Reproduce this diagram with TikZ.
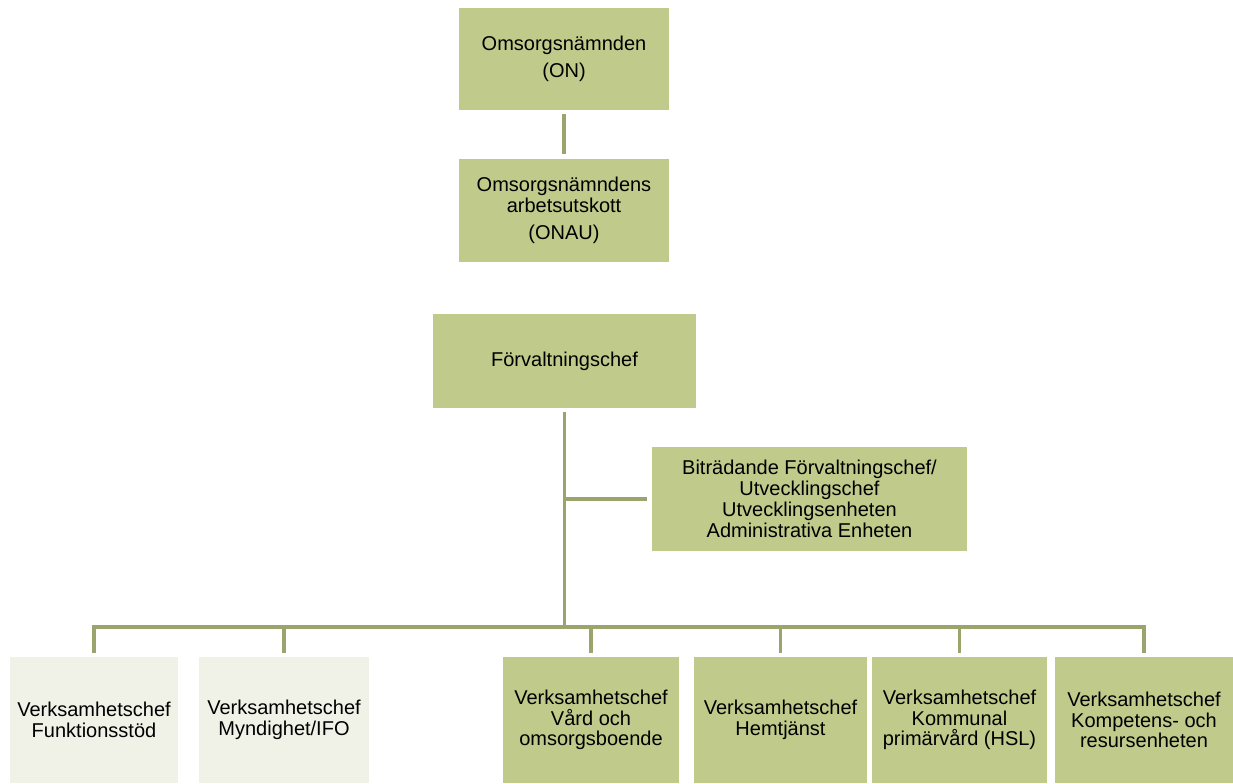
\documentclass[tikz,border=0pt]{standalone}
\usepackage{fontspec}
\setmainfont{Liberation Sans}
\definecolor{boxgreen}{RGB}{192,202,139}
\definecolor{boxpale}{RGB}{241,242,231}
\definecolor{linkgreen}{RGB}{155,164,108}

\begin{document}
\begin{tikzpicture}[x=0.75pt,y=-0.75pt,
    box/.style={fill=boxgreen, text=black, align=center, inner sep=0pt,
        font=\fontsize{15}{15.6}\selectfont},
    palebox/.style={box, fill=boxpale},
    link/.style={draw=linkgreen, line width=2.7pt}]

    \useasboundingbox (0,0) rectangle (1233,783);

    \node[box, minimum width=157.5pt, minimum height=76.5pt] (on) at (564,59) {Omsorgsnämnden\\[5pt](ON)};
    \node[box, minimum width=157.5pt, minimum height=77.25pt] (onau) at (564,210.5) {Omsorgsnämndens\\arbetsutskott\\[5pt](ONAU)};
    \node[box, minimum width=197.25pt, minimum height=70.5pt] (forv) at (564.5,361) {Förvaltningschef};
    \node[box, minimum width=236.25pt, minimum height=78pt] (bitr) at (809.5,499) {Biträdande Förvaltningschef/\\Utvecklingschef\\Utvecklingsenheten\\Administrativa Enheten};

    \node[palebox, minimum width=126pt, minimum height=94.5pt] (b1) at (94,720) {Verksamhetschef\\Funktionsstöd};
    \node[palebox, minimum width=127.5pt, minimum height=94.5pt] (b2) at (284,720) {Verksamhetschef\\Myndighet/IFO};
    \node[box, minimum width=132pt, minimum height=94.5pt] (b3) at (591,720) {Verksamhetschef\\Vård och\\omsorgsboende};
    \node[box, minimum width=129.75pt, minimum height=94.5pt] (b4) at (780.5,720) {Verksamhetschef\\Hemtjänst};
    \node[box, minimum width=131.25pt, minimum height=94.5pt] (b5) at (959.5,720) {Verksamhetschef\\Kommunal\\primärvård (HSL)};
    \node[box, minimum width=133.5pt, minimum height=94.5pt] (b6) at (1144,720) {Verksamhetschef\\Kompetens- och\\resursenheten};

    \coordinate (bar) at (564.5,627);
    \coordinate (split) at (forv.south |- bitr.west);

    \draw[link, shorten <=3pt, shorten >=3.5pt] (on) -- (onau);
    \draw[link, shorten <=3pt] (forv.south) -- (bar);
    \draw[link, shorten >=3.75pt] (split) -- (bitr.west);
    \draw[link, shorten <=3pt, shorten >=3pt] (b1.north) |- (bar) -| (b6.north);
    \foreach \b in {b2,b3,b4,b5} \draw[link, shorten >=3pt] (\b.north |- bar) -- (\b.north);

\end{tikzpicture}
\end{document}
